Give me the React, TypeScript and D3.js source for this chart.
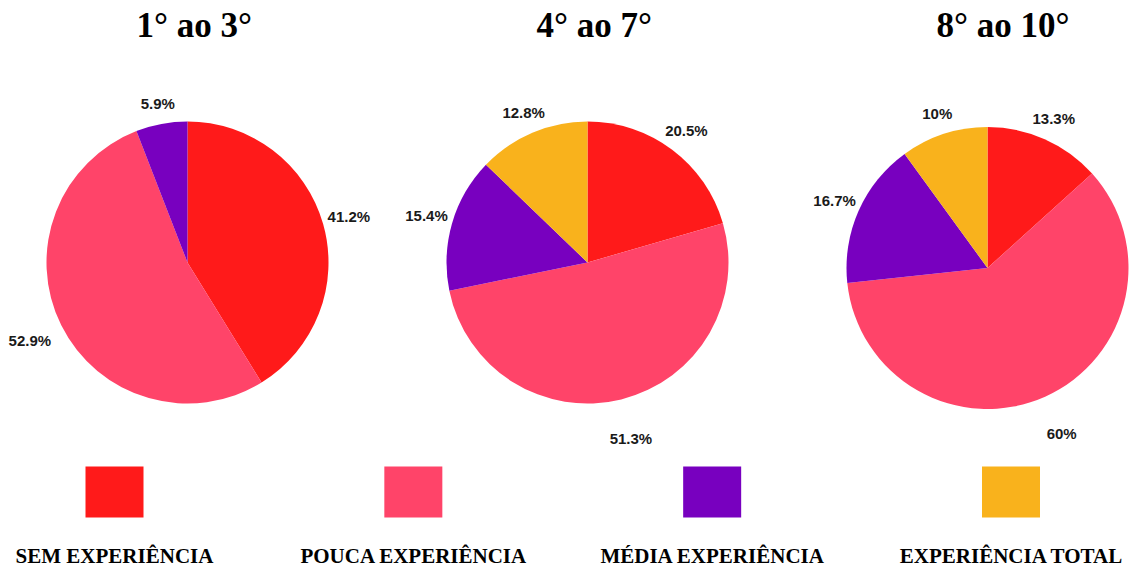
import React from "react";
import * as d3 from "d3";

const categories = ["SEM EXPERIÊNCIA", "POUCA EXPERIÊNCIA", "MÉDIA EXPERIÊNCIA", "EXPERIÊNCIA TOTAL"];
const colors = ["#ff1a1a", "#ff4469", "#7800bf", "#f9b21c"];
const panelTitles = ["1° ao 3°", "4° ao 7°", "8° ao 10°"];
const values1 = [41.2, 52.9, 5.9, 0];
const values2 = [20.5, 51.3, 15.4, 12.8];
const values3 = [13.3, 60, 16.7, 10];
const labels1 = ["41.2%", "52.9%", "5.9%", ""];
const labels2 = ["20.5%", "51.3%", "15.4%", "12.8%"];
const labels3 = ["13.3%", "60%", "16.7%", "10%"];

const W = 1130;
const H = 567;
const R = 141;
const panelX = d3.scaleLinear().domain([0, 2]).range([187.5, 987.5]);
const pieCy = [262.5, 262.5, 268];
const legendX = d3.scaleLinear().domain([0, 3]).range([114.5, 1011]);

const seriesList = [values1, values2, values3];
const labelList = [labels1, labels2, labels3];

export default function App() {
  const pie = d3.pie<number>().sort(null).value((d) => d).startAngle(0).endAngle(2 * Math.PI);
  const arc = d3.arc<d3.PieArcDatum<number>>().innerRadius(0).outerRadius(R);

  return (
    <svg width={W} height={H} style={{ position: "absolute", left: 0, top: 0, background: "#fff" }}>
      <rect x={0} y={0} width={W} height={H} fill="#fff" />
      {seriesList.map((vals, pi) => {
        const cx = panelX(pi);
        const cy = pieCy[pi];
        const arcs = pie(vals);
        return (
          <g key={pi}>
            <text
              x={cx - 51}
              y={37}
              fontFamily="'Liberation Serif', 'Times New Roman', serif"
              fontWeight="bold"
              fontSize={35}
              fill="#000"
            >
              {panelTitles[pi]}
            </text>
            <g transform={`translate(${cx},${cy})`}>
              {arcs.map((a, i) =>
                a.data > 0 ? <path key={i} d={arc(a) || ""} fill={colors[i]} /> : null
              )}
              {arcs.map((a, i) => {
                const lab = labelList[pi][i];
                if (!lab || a.data <= 0) return null;
                const mid = (a.startAngle + a.endAngle) / 2;
                const s = Math.sin(mid);
                const c = Math.cos(mid);
                const dist = 160 + 8 * Math.abs(s) + 20 * Math.max(0, -c);
                return (
                  <text
                    key={"l" + i}
                    x={dist * s}
                    y={-dist * c}
                    textAnchor="middle"
                    dominantBaseline="central"
                    fontFamily="'Liberation Sans', Arial, sans-serif"
                    fontWeight="bold"
                    fontSize={15}
                    fill="#1a1a1a"
                  >
                    {lab}
                  </text>
                );
              })}
            </g>
          </g>
        );
      })}
      {categories.map((cat, i) => {
        const x = legendX(i);
        return (
          <g key={cat}>
            <rect x={x - 29} y={466.5} width={58} height={51} fill={colors[i]} />
            <text
              x={x}
              y={563}
              textAnchor="middle"
              fontFamily="'Liberation Serif', 'Times New Roman', serif"
              fontWeight="bold"
              fontSize={21}
              fill="#000"
            >
              {cat}
            </text>
          </g>
        );
      })}
    </svg>
  );
}
